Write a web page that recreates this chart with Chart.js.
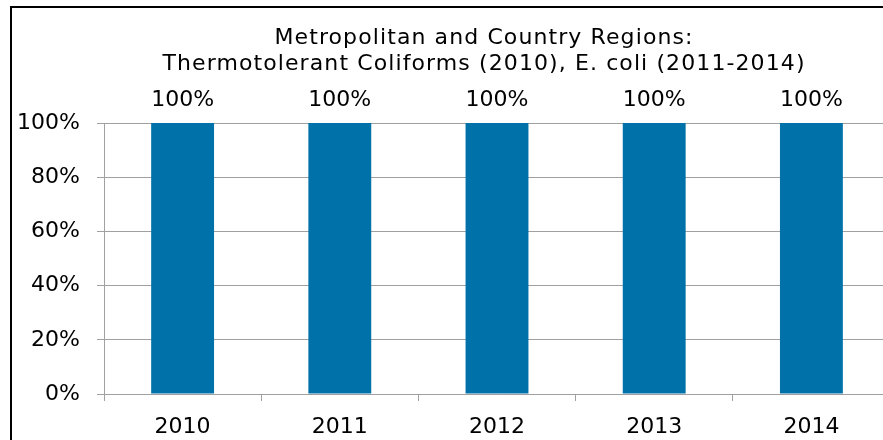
<!DOCTYPE html>
<html>
<head>
<meta charset="utf-8">
<script src="https://cdn.jsdelivr.net/npm/chart.js@4"></script>
<style>
  html, body { margin:0; padding:0; background:#fff; overflow:hidden; }
  #frame { position:absolute; left:10px; top:6px; width:900px; height:460px;
           border-left:2px solid #000; border-top:2px solid #000; }
  #chart { position:absolute; left:0; top:0; }
</style>
</head>
<body>
<div id="frame"></div>
<canvas id="chart" width="890" height="440"></canvas>
<script>
(function(){
  const years = ['2010', '2011', '2012', '2013', '2014'];
  const compliance = [100, 100, 100, 100, 100];
  const titleLines = ['Metropolitan and Country Regions:', 'Thermotolerant Coliforms (2010), E. coli (2011-2014)'];

  const font = 'DejaVu Sans';
  const gridColor = '#A0A0A0';

  // two-line title, centred on the frame rather than the canvas
  const frameTitle = {
    id: 'frameTitle',
    afterDraw(chart){
      const ctx = chart.ctx;
      ctx.save();
      ctx.font = '22px "' + font + '"';
      ctx.letterSpacing = '1.1px';
      ctx.fillStyle = '#000';
      ctx.textAlign = 'center';
      ctx.textBaseline = 'middle';
      titleLines.forEach((line, i) => ctx.fillText(line, 484, 38 + i * 26));
      ctx.restore();
    }
  };

  // value labels above the bars
  const barLabels = {
    id: 'barLabels',
    afterDatasetsDraw(chart){
      const ctx = chart.ctx;
      const meta = chart.getDatasetMeta(0);
      ctx.save();
      ctx.font = '22px "' + font + '"';
      ctx.fillStyle = '#000';
      ctx.textAlign = 'center';
      ctx.textBaseline = 'bottom';
      meta.data.forEach((bar, i) => {
        ctx.fillText(compliance[i] + '%', bar.x, bar.y - 12);
      });
      ctx.restore();
    }
  };

  new Chart(document.getElementById('chart').getContext('2d'), {
    type: 'bar',
    data: {
      labels: years,
      datasets: [{
        data: compliance,
        backgroundColor: '#0071A9',
        categoryPercentage: 0.4,
        barPercentage: 1
      }]
    },
    options: {
      responsive: false,
      animation: false,
      layout: { padding: { left: 0, right: 0, top: 123, bottom: 0 } },
      plugins: {
        legend: { display: false },
        tooltip: { enabled: false },
        title: { display: false }
      },
      scales: {
        x: {
          grid: { offset: true, drawOnChartArea: false, color: gridColor, tickLength: 7 },
          border: { color: gridColor },
          ticks: { color: '#000', padding: 13, font: { family: font, size: 22 } },
          afterFit(scale){ scale.height = 46; }
        },
        y: {
          min: 0, max: 100,
          grid: { color: gridColor, tickLength: 7 },
          border: { color: gridColor },
          ticks: { stepSize: 20, color: '#000', padding: 17,
                   font: { family: font, size: 22 },
                   callback: v => v + '%' },
          afterFit(scale){ scale.width = 104; }
        }
      }
    },
    plugins: [barLabels, frameTitle]
  });
})();
</script>
</body>
</html>
